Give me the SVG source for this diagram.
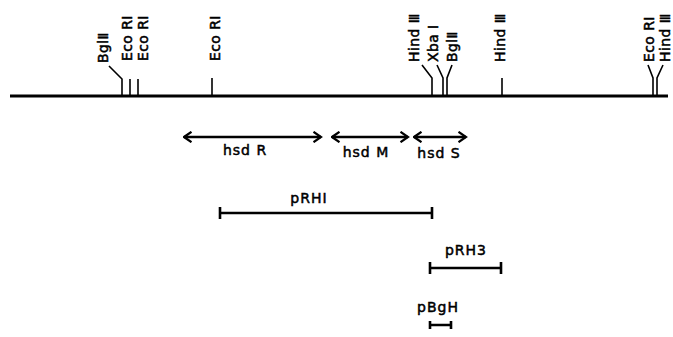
<svg xmlns="http://www.w3.org/2000/svg" width="673" height="337" viewBox="0 0 673 337">
<defs>
<style>
.ln{stroke:#000;fill:none;stroke-linecap:butt}
.main{stroke-width:2.8}
.tk{stroke-width:1.6}
.bar{stroke-width:2.6}
.rl{font-family:"DejaVu Sans",sans-serif;font-size:14px;letter-spacing:0.4px;fill:#000;stroke:#000;stroke-width:0.5px}
.lb{font-family:"DejaVu Sans",sans-serif;font-size:14px;letter-spacing:1px;fill:#000;stroke:#000;stroke-width:0.5px;text-anchor:middle}
</style>
<marker id="ah" viewBox="0 0 12 12" refX="10.5" refY="6" markerWidth="12" markerHeight="12" markerUnits="userSpaceOnUse" orient="auto-start-reverse">
<path d="M3,0.8 L10.5,6 L3,11.2" fill="none" stroke="#000" stroke-width="2.2"/>
</marker>
</defs>
<rect width="673" height="337" fill="#fff"/>
<g id="map">
<line class="ln main" x1="10" y1="96" x2="668" y2="96"/>
</g>
<g id="sites">
<g id="BglII-1"><path class="ln tk" d="M109,66 L122,79 L122,96"/><text class="rl" transform="translate(108,63) rotate(-90)">BglⅡ</text></g>
<g id="EcoRI-1"><path class="ln tk" d="M130,79 L130,96"/><text class="rl" transform="translate(132,61) rotate(-90)">Eco RI</text></g>
<g id="EcoRI-2"><path class="ln tk" d="M138,79 L138,96"/><text class="rl" transform="translate(148,61) rotate(-90)">Eco RI</text></g>
<g id="EcoRI-3"><path class="ln tk" d="M212,78 L212,96"/><text class="rl" transform="translate(220,61) rotate(-90)">Eco RI</text></g>
<g id="HindIII-1"><path class="ln tk" d="M422,65 L432,78 L432,96"/><text class="rl" transform="translate(419,62) rotate(-90)">Hind Ⅲ</text></g>
<g id="XbaI"><path class="ln tk" d="M437,65 L443,78 L443,96"/><text class="rl" transform="translate(438,62) rotate(-90)">Xba I</text></g>
<g id="BglII-2"><path class="ln tk" d="M452,65 L447,78 L447,96"/><text class="rl" transform="translate(457,62) rotate(-90)">BglⅡ</text></g>
<g id="HindIII-2"><path class="ln tk" d="M502,78 L502,96"/><text class="rl" transform="translate(505,62) rotate(-90)">Hind Ⅲ</text></g>
<g id="EcoRI-4"><path class="ln tk" d="M648,65 L653,78 L653,96"/><text class="rl" transform="translate(654,62) rotate(-90)">Eco RI</text></g>
<g id="HindIII-3"><path class="ln tk" d="M663,65 L657,78 L657,96"/><text class="rl" transform="translate(670,62) rotate(-90)">Hind Ⅲ</text></g>
</g>
<g id="connectors">
<line class="ln bar" x1="184" y1="137" x2="321" y2="137" marker-start="url(#ah)" marker-end="url(#ah)"/>
<line class="ln bar" x1="332" y1="137" x2="408" y2="137" marker-start="url(#ah)" marker-end="url(#ah)"/>
<line class="ln bar" x1="414" y1="137" x2="466" y2="137" marker-start="url(#ah)" marker-end="url(#ah)"/>
</g>
<g id="hsdR"><text class="lb" x="245" y="155">hsd R</text></g>
<g id="hsdM"><text class="lb" x="366" y="157">hsd M</text></g>
<g id="hsdS"><text class="lb" x="439" y="158">hsd S</text></g>
<g id="pRH1">
<path class="ln bar" d="M220,213 L432,213 M220,207 L220,219 M432,207 L432,219"/>
<text class="lb" x="309" y="203">pRHI</text>
</g>
<g id="pRH3">
<path class="ln bar" d="M430,268 L501,268 M430,262 L430,274 M501,262 L501,274"/>
<text class="lb" x="466" y="255">pRH3</text>
</g>
<g id="pBgH">
<path class="ln bar" d="M430,325 L451,325 M430,321 L430,329 M451,321 L451,329"/>
<text class="lb" x="438" y="312">pBgH</text>
</g>
</svg>
